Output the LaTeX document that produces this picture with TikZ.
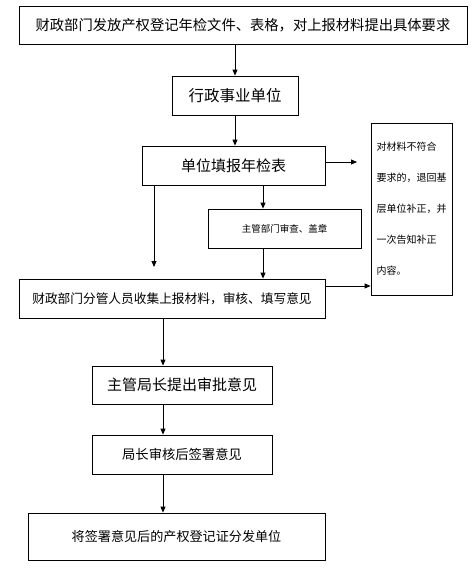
\documentclass[tikz,border=0pt]{standalone}
\usepackage{fontspec}
\setmainfont{Noto Sans CJK SC}
\usetikzlibrary{arrows.meta}
\begin{document}
\begin{tikzpicture}[x=1pt, y=-1pt,
  box/.style={draw, line width=0.8pt, inner sep=0pt},
  arr/.style={line width=0.8pt, -{Triangle[length=6pt,width=5pt]}}]
\useasboundingbox (0,0) rectangle (475,571);
% boxes
\node[box, minimum width=448pt, minimum height=38pt, font=\fontsize{14.3}{16}\selectfont] (b1) at (243,25) {财政部门发放产权登记年检文件、表格，对上报材料提出具体要求};
\node[box, minimum width=126pt, minimum height=39pt, font=\fontsize{15.5}{18}\selectfont] (b2) at (235,95.5) {行政事业单位};
\node[box, minimum width=183pt, minimum height=39pt, font=\fontsize{15}{18}\selectfont] (b3) at (233.5,165.5) {单位填报年检表};
\node[box, minimum width=153pt, minimum height=39pt, font=\fontsize{9.5}{11}\selectfont] (b4) at (284.5,228.5) {主管部门审查、盖章};
\node[box, minimum width=81pt, minimum height=172pt, align=left, font=\fontsize{10}{31}\selectfont] (back) at (411.5,209) {对材料不符合\\要求的，退回基\\层单位补正，并\\一次告知补正\\内容。};
\node[box, minimum width=306pt, minimum height=39pt, font=\fontsize{12.7}{15}\selectfont] (b5) at (172,298.5) {财政部门分管人员收集上报材料，审核、填写意见};
\node[box, minimum width=180pt, minimum height=38pt, font=\fontsize{15}{18}\selectfont] (b6) at (182,385) {主管局长提出审批意见};
\node[box, minimum width=180pt, minimum height=39pt, font=\fontsize{13.3}{16}\selectfont] (b7) at (182,454.5) {局长审核后签署意见};
\node[box, minimum width=297pt, minimum height=47pt, font=\fontsize{13.1}{16}\selectfont] (b8) at (176.5,536.5) {将签署意见后的产权登记证分发单位};
% helper coordinates
\coordinate (xl) at (154,0);
\coordinate (xm) at (263,0);
\coordinate (xc) at (163,0);
\coordinate (yr) at (0,286);
\coordinate (e1) at (357,162);
\coordinate (e2) at (154,267);
% connectors
\draw[arr] (b1.south -| b2) -- (b2.north);
\draw[arr] (b2.south) -- (b2 |- b3.north);
\draw[arr] (b3.east |- e1) -- (e1);
\draw[arr] (b3.south -| xm) -- (b4.north -| xm);
\draw[arr] (b3.south -| xl) -- (e2);
\draw[arr] (b4.south -| xm) -- (b5.north -| xm);
\draw[arr] (b5.east |- yr) -- (back.west |- yr);
\draw[arr] (b5.south -| xc) -- (b6.north -| xc);
\draw[arr] (b6.south -| xc) -- (b7.north -| xc);
\draw[arr] (b7.south -| xc) -- (b8.north -| xc);
\end{tikzpicture}
\end{document}
